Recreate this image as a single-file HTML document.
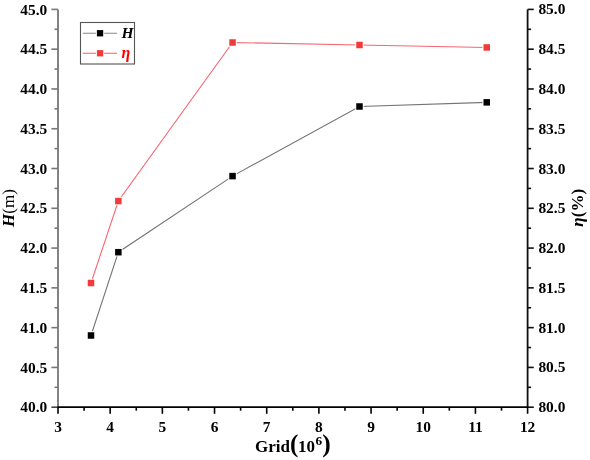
<!DOCTYPE html>
<html><head><meta charset="utf-8"><style>
html,body{margin:0;padding:0;background:#fff;}
svg{display:block;will-change:transform;}
.t{font-family:"Liberation Serif",serif;font-weight:bold;font-size:15.4px;fill:#000;}
.ti{font-family:"Liberation Serif",serif;font-weight:bold;font-size:17px;fill:#000;}
</style></head><body>
<svg width="590" height="460" viewBox="0 0 590 460">
<polyline points="91.00,335.50 118.35,252.20 232.55,176.10 359.50,106.50 486.75,102.35" fill="none" stroke="#747474" stroke-width="1.1"/>
<polyline points="91.00,283.00 118.35,201.05 232.55,42.50 359.50,45.00 486.75,47.45" fill="none" stroke="#f46670" stroke-width="1.1"/>
<rect x="86.75" y="331.25" width="8.50" height="8.50" fill="#fff"/>
<rect x="114.10" y="247.95" width="8.50" height="8.50" fill="#fff"/>
<rect x="228.30" y="171.85" width="8.50" height="8.50" fill="#fff"/>
<rect x="355.25" y="102.25" width="8.50" height="8.50" fill="#fff"/>
<rect x="482.50" y="98.10" width="8.50" height="8.50" fill="#fff"/>
<rect x="86.75" y="278.75" width="8.50" height="8.50" fill="#fff"/>
<rect x="114.10" y="196.80" width="8.50" height="8.50" fill="#fff"/>
<rect x="228.30" y="38.25" width="8.50" height="8.50" fill="#fff"/>
<rect x="355.25" y="40.75" width="8.50" height="8.50" fill="#fff"/>
<rect x="482.50" y="43.20" width="8.50" height="8.50" fill="#fff"/>
<rect x="87.75" y="332.25" width="6.50" height="6.50" fill="#000"/>
<rect x="115.10" y="248.95" width="6.50" height="6.50" fill="#000"/>
<rect x="229.30" y="172.85" width="6.50" height="6.50" fill="#000"/>
<rect x="356.25" y="103.25" width="6.50" height="6.50" fill="#000"/>
<rect x="483.50" y="99.10" width="6.50" height="6.50" fill="#000"/>
<rect x="87.75" y="279.75" width="6.50" height="6.50" fill="#f23a3a"/>
<rect x="115.10" y="197.80" width="6.50" height="6.50" fill="#f23a3a"/>
<rect x="229.30" y="39.25" width="6.50" height="6.50" fill="#f23a3a"/>
<rect x="356.25" y="41.75" width="6.50" height="6.50" fill="#f23a3a"/>
<rect x="483.50" y="44.20" width="6.50" height="6.50" fill="#f23a3a"/>
<line x1="58.00" y1="9.40" x2="58.00" y2="407.20" stroke="#777" stroke-width="1.8"/>
<line x1="527.60" y1="9.40" x2="527.60" y2="407.20" stroke="#111" stroke-width="1.8"/>
<line x1="57.10" y1="407.20" x2="528.50" y2="407.20" stroke="#000" stroke-width="1.8"/>
<line x1="51.40" y1="407.20" x2="58.00" y2="407.20" stroke="#444" stroke-width="1.6"/>
<text x="47.20" y="412.30" class="t" text-anchor="end">40.0</text>
<line x1="54.50" y1="387.31" x2="58.00" y2="387.31" stroke="#777" stroke-width="1.6"/>
<line x1="51.40" y1="367.42" x2="58.00" y2="367.42" stroke="#777" stroke-width="1.6"/>
<text x="47.20" y="372.52" class="t" text-anchor="end">40.5</text>
<line x1="54.50" y1="347.53" x2="58.00" y2="347.53" stroke="#777" stroke-width="1.6"/>
<line x1="51.40" y1="327.64" x2="58.00" y2="327.64" stroke="#777" stroke-width="1.6"/>
<text x="47.20" y="332.74" class="t" text-anchor="end">41.0</text>
<line x1="54.50" y1="307.75" x2="58.00" y2="307.75" stroke="#777" stroke-width="1.6"/>
<line x1="51.40" y1="287.86" x2="58.00" y2="287.86" stroke="#777" stroke-width="1.6"/>
<text x="47.20" y="292.96" class="t" text-anchor="end">41.5</text>
<line x1="54.50" y1="267.97" x2="58.00" y2="267.97" stroke="#777" stroke-width="1.6"/>
<line x1="51.40" y1="248.08" x2="58.00" y2="248.08" stroke="#777" stroke-width="1.6"/>
<text x="47.20" y="253.18" class="t" text-anchor="end">42.0</text>
<line x1="54.50" y1="228.19" x2="58.00" y2="228.19" stroke="#777" stroke-width="1.6"/>
<line x1="51.40" y1="208.30" x2="58.00" y2="208.30" stroke="#777" stroke-width="1.6"/>
<text x="47.20" y="213.40" class="t" text-anchor="end">42.5</text>
<line x1="54.50" y1="188.41" x2="58.00" y2="188.41" stroke="#777" stroke-width="1.6"/>
<line x1="51.40" y1="168.52" x2="58.00" y2="168.52" stroke="#777" stroke-width="1.6"/>
<text x="47.20" y="173.62" class="t" text-anchor="end">43.0</text>
<line x1="54.50" y1="148.63" x2="58.00" y2="148.63" stroke="#777" stroke-width="1.6"/>
<line x1="51.40" y1="128.74" x2="58.00" y2="128.74" stroke="#777" stroke-width="1.6"/>
<text x="47.20" y="133.84" class="t" text-anchor="end">43.5</text>
<line x1="54.50" y1="108.85" x2="58.00" y2="108.85" stroke="#777" stroke-width="1.6"/>
<line x1="51.40" y1="88.96" x2="58.00" y2="88.96" stroke="#777" stroke-width="1.6"/>
<text x="47.20" y="94.06" class="t" text-anchor="end">44.0</text>
<line x1="54.50" y1="69.07" x2="58.00" y2="69.07" stroke="#777" stroke-width="1.6"/>
<line x1="51.40" y1="49.18" x2="58.00" y2="49.18" stroke="#777" stroke-width="1.6"/>
<text x="47.20" y="54.28" class="t" text-anchor="end">44.5</text>
<line x1="54.50" y1="29.29" x2="58.00" y2="29.29" stroke="#777" stroke-width="1.6"/>
<line x1="51.40" y1="9.40" x2="58.00" y2="9.40" stroke="#777" stroke-width="1.6"/>
<text x="47.20" y="14.50" class="t" text-anchor="end">45.0</text>
<line x1="527.60" y1="407.20" x2="533.80" y2="407.20" stroke="#111" stroke-width="1.6"/>
<text x="538.40" y="412.20" class="t">80.0</text>
<line x1="527.60" y1="387.31" x2="531.10" y2="387.31" stroke="#111" stroke-width="1.6"/>
<line x1="527.60" y1="367.42" x2="533.80" y2="367.42" stroke="#111" stroke-width="1.6"/>
<text x="538.40" y="372.42" class="t">80.5</text>
<line x1="527.60" y1="347.53" x2="531.10" y2="347.53" stroke="#111" stroke-width="1.6"/>
<line x1="527.60" y1="327.64" x2="533.80" y2="327.64" stroke="#111" stroke-width="1.6"/>
<text x="538.40" y="332.64" class="t">81.0</text>
<line x1="527.60" y1="307.75" x2="531.10" y2="307.75" stroke="#111" stroke-width="1.6"/>
<line x1="527.60" y1="287.86" x2="533.80" y2="287.86" stroke="#111" stroke-width="1.6"/>
<text x="538.40" y="292.86" class="t">81.5</text>
<line x1="527.60" y1="267.97" x2="531.10" y2="267.97" stroke="#111" stroke-width="1.6"/>
<line x1="527.60" y1="248.08" x2="533.80" y2="248.08" stroke="#111" stroke-width="1.6"/>
<text x="538.40" y="253.08" class="t">82.0</text>
<line x1="527.60" y1="228.19" x2="531.10" y2="228.19" stroke="#111" stroke-width="1.6"/>
<line x1="527.60" y1="208.30" x2="533.80" y2="208.30" stroke="#111" stroke-width="1.6"/>
<text x="538.40" y="213.30" class="t">82.5</text>
<line x1="527.60" y1="188.41" x2="531.10" y2="188.41" stroke="#111" stroke-width="1.6"/>
<line x1="527.60" y1="168.52" x2="533.80" y2="168.52" stroke="#111" stroke-width="1.6"/>
<text x="538.40" y="173.52" class="t">83.0</text>
<line x1="527.60" y1="148.63" x2="531.10" y2="148.63" stroke="#111" stroke-width="1.6"/>
<line x1="527.60" y1="128.74" x2="533.80" y2="128.74" stroke="#111" stroke-width="1.6"/>
<text x="538.40" y="133.74" class="t">83.5</text>
<line x1="527.60" y1="108.85" x2="531.10" y2="108.85" stroke="#111" stroke-width="1.6"/>
<line x1="527.60" y1="88.96" x2="533.80" y2="88.96" stroke="#111" stroke-width="1.6"/>
<text x="538.40" y="93.96" class="t">84.0</text>
<line x1="527.60" y1="69.07" x2="531.10" y2="69.07" stroke="#111" stroke-width="1.6"/>
<line x1="527.60" y1="49.18" x2="533.80" y2="49.18" stroke="#111" stroke-width="1.6"/>
<text x="538.40" y="54.18" class="t">84.5</text>
<line x1="527.60" y1="29.29" x2="531.10" y2="29.29" stroke="#111" stroke-width="1.6"/>
<line x1="527.60" y1="9.40" x2="533.80" y2="9.40" stroke="#111" stroke-width="1.6"/>
<text x="538.40" y="14.40" class="t">85.0</text>
<line x1="58.00" y1="407.20" x2="58.00" y2="413.80" stroke="#000" stroke-width="1.6"/>
<text x="58.00" y="431.60" class="t" text-anchor="middle">3</text>
<line x1="84.09" y1="407.20" x2="84.09" y2="410.70" stroke="#000" stroke-width="1.6"/>
<line x1="110.18" y1="407.20" x2="110.18" y2="413.80" stroke="#000" stroke-width="1.6"/>
<text x="110.18" y="431.60" class="t" text-anchor="middle">4</text>
<line x1="136.27" y1="407.20" x2="136.27" y2="410.70" stroke="#000" stroke-width="1.6"/>
<line x1="162.36" y1="407.20" x2="162.36" y2="413.80" stroke="#000" stroke-width="1.6"/>
<text x="162.36" y="431.60" class="t" text-anchor="middle">5</text>
<line x1="188.44" y1="407.20" x2="188.44" y2="410.70" stroke="#000" stroke-width="1.6"/>
<line x1="214.53" y1="407.20" x2="214.53" y2="413.80" stroke="#000" stroke-width="1.6"/>
<text x="214.53" y="431.60" class="t" text-anchor="middle">6</text>
<line x1="240.62" y1="407.20" x2="240.62" y2="410.70" stroke="#000" stroke-width="1.6"/>
<line x1="266.71" y1="407.20" x2="266.71" y2="413.80" stroke="#000" stroke-width="1.6"/>
<text x="266.71" y="431.60" class="t" text-anchor="middle">7</text>
<line x1="292.80" y1="407.20" x2="292.80" y2="410.70" stroke="#000" stroke-width="1.6"/>
<line x1="318.89" y1="407.20" x2="318.89" y2="413.80" stroke="#000" stroke-width="1.6"/>
<text x="318.89" y="431.60" class="t" text-anchor="middle">8</text>
<line x1="344.98" y1="407.20" x2="344.98" y2="410.70" stroke="#000" stroke-width="1.6"/>
<line x1="371.07" y1="407.20" x2="371.07" y2="413.80" stroke="#000" stroke-width="1.6"/>
<text x="371.07" y="431.60" class="t" text-anchor="middle">9</text>
<line x1="397.16" y1="407.20" x2="397.16" y2="410.70" stroke="#000" stroke-width="1.6"/>
<line x1="423.24" y1="407.20" x2="423.24" y2="413.80" stroke="#000" stroke-width="1.6"/>
<text x="423.24" y="431.60" class="t" text-anchor="middle">10</text>
<line x1="449.33" y1="407.20" x2="449.33" y2="410.70" stroke="#000" stroke-width="1.6"/>
<line x1="475.42" y1="407.20" x2="475.42" y2="413.80" stroke="#000" stroke-width="1.6"/>
<text x="475.42" y="431.60" class="t" text-anchor="middle">11</text>
<line x1="501.51" y1="407.20" x2="501.51" y2="410.70" stroke="#000" stroke-width="1.6"/>
<line x1="527.60" y1="407.20" x2="527.60" y2="413.80" stroke="#000" stroke-width="1.6"/>
<text x="527.60" y="431.60" class="t" text-anchor="middle">12</text>
<text x="255.0" y="452.0" class="ti">Grid</text>
<text x="290.0" y="452.2" class="ti" style="font-size:25px">(</text>
<text x="298.0" y="452.0" class="ti">10</text>
<text x="315.4" y="445.1" class="ti" style="font-size:13.3px">6</text>
<text x="322.2" y="452.2" class="ti" style="font-size:25.5px">)</text>
<text transform="translate(14.1,208) rotate(-90)" text-anchor="middle" class="ti"><tspan font-style="italic">H</tspan><tspan font-weight="normal">(m)</tspan></text>
<text transform="translate(583.0,207.8) rotate(-90)" text-anchor="middle" class="ti"><tspan font-style="italic">η</tspan>(%)</text>
<rect x="80.5" y="22.5" width="54" height="41.5" fill="#fff" stroke="#555" stroke-width="1.1"/>
<line x1="82.8" y1="33.2" x2="117.1" y2="33.2" stroke="#888" stroke-width="1.1"/>
<rect x="95.9" y="29.1" width="8.3" height="8.3" fill="#fff"/>
<rect x="96.9" y="30.1" width="6.3" height="6.3" fill="#000"/>
<line x1="82.8" y1="53.2" x2="117.1" y2="53.2" stroke="#ff5a5a" stroke-width="1.1"/>
<rect x="95.9" y="49.1" width="8.3" height="8.3" fill="#fff"/>
<rect x="96.9" y="50.1" width="6.3" height="6.3" fill="#f23a3a"/>
<text x="121.4" y="38.4" class="ti" font-style="italic" style="font-size:15.5px">H</text>
<text x="121.4" y="58.0" class="ti" font-style="italic" style="fill:#f00;font-size:16px">η</text>
</svg>
</body></html>
